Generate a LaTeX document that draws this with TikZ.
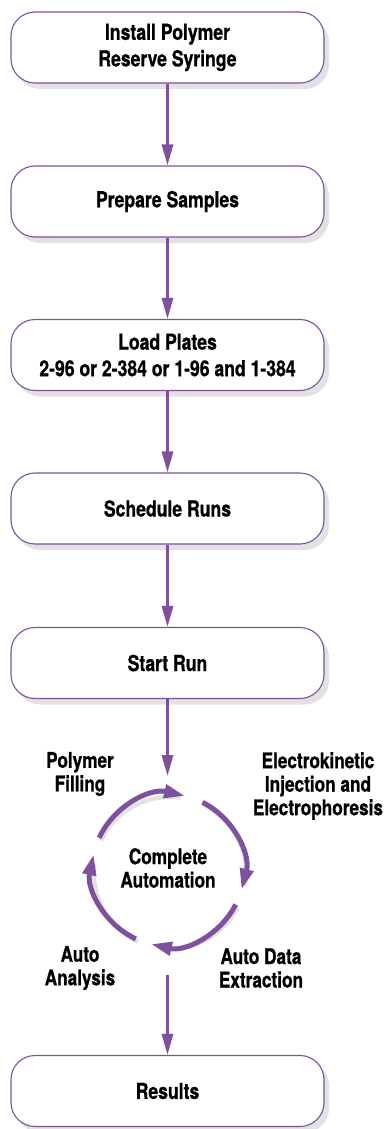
\documentclass[tikz,border=0pt]{standalone}
\usepackage{fontspec}
\setmainfont{TeX Gyre Heros}[FakeStretch=0.8,BoldFeatures={FakeBold=0.8}]
\usetikzlibrary{arrows.meta,shadows}
\definecolor{vio}{RGB}{125,81,158}
\definecolor{shd}{RGB}{226,226,226}
\newcommand\boxfont{\fontsize{22}{26.5}\selectfont\bfseries}
\newcommand\labfont{\fontsize{21.5}{23.5}\selectfont\bfseries}
\begin{document}
\begin{tikzpicture}[x=1pt,y=-1pt,
  stepbox/.style={draw=vio,line width=1.1pt,fill=white,rounded corners=24pt,
    minimum width=313pt,minimum height=71pt,inner sep=0pt,align=center,font=\boxfont,
    drop shadow={shadow xshift=5pt,shadow yshift=-6pt,fill=shd,opacity=1}},
  flow/.style={draw=vio,line width=3pt,-{Triangle[length=21pt,width=11pt]}},
  cyc/.style={draw=vio,line width=5pt,-{Triangle[length=21pt,width=13pt]}},
  cycshadow/.style={draw=shd,line width=4pt},
  lab/.style={align=center,font=\labfont,inner sep=0pt}]
\useasboundingbox (0,0) rectangle (389,1129);
\node[stepbox] (b1) at (167.5,47.5) {Install Polymer\\Reserve Syringe};
\node[stepbox] (b2) at (167.5,201.5) {Prepare Samples};
\node[stepbox] (b3) at (167.5,355) {Load Plates\\2-96 or 2-384 or 1-96 and 1-384};
\node[stepbox] (b4) at (167.5,508.5) {Schedule Runs};
\node[stepbox] (b5) at (167.5,663) {Start Run};
\node[stepbox] (b6) at (167.5,1091) {Results};
\draw[flow] (b1) -- (b2);
\draw[flow] (b2) -- (b3);
\draw[flow] (b3) -- (b4);
\draw[flow] (b4) -- (b5);
\coordinate (cin) at (167.5,776);
\coordinate (cout) at (167.5,975);
\draw[flow] (b5) -- (cin);
\draw[flow] (cout) -- (b6);
\coordinate (cc) at (168,870);
\coordinate (cs) at (170,873);
\foreach \a/\b in {-155/-82,-63/10,27/98,115/187}{
  \draw[cycshadow] ([shift={(\a:76)}]cs) arc[start angle=\a,end angle=\b,radius=76];
}
\foreach \a/\b in {-155/-77,-63/15,27/103,115/192}{
  \draw[cyc] ([shift={(\a:76)}]cc) arc[start angle=\a,end angle=\b,radius=76];
}
\node[lab] (l1) at (80,774) {Polymer\\Filling};
\node[lab] (l2) at (318,786) {Electrokinetic\\Injection and\\Electrophoresis};
\node[lab] (l3) at (168,868) {Complete\\Automation};
\node[lab] (l4) at (80,968) {Auto\\Analysis};
\node[lab] (l5) at (261,968) {Auto Data\\Extraction};
\end{tikzpicture}
\end{document}
